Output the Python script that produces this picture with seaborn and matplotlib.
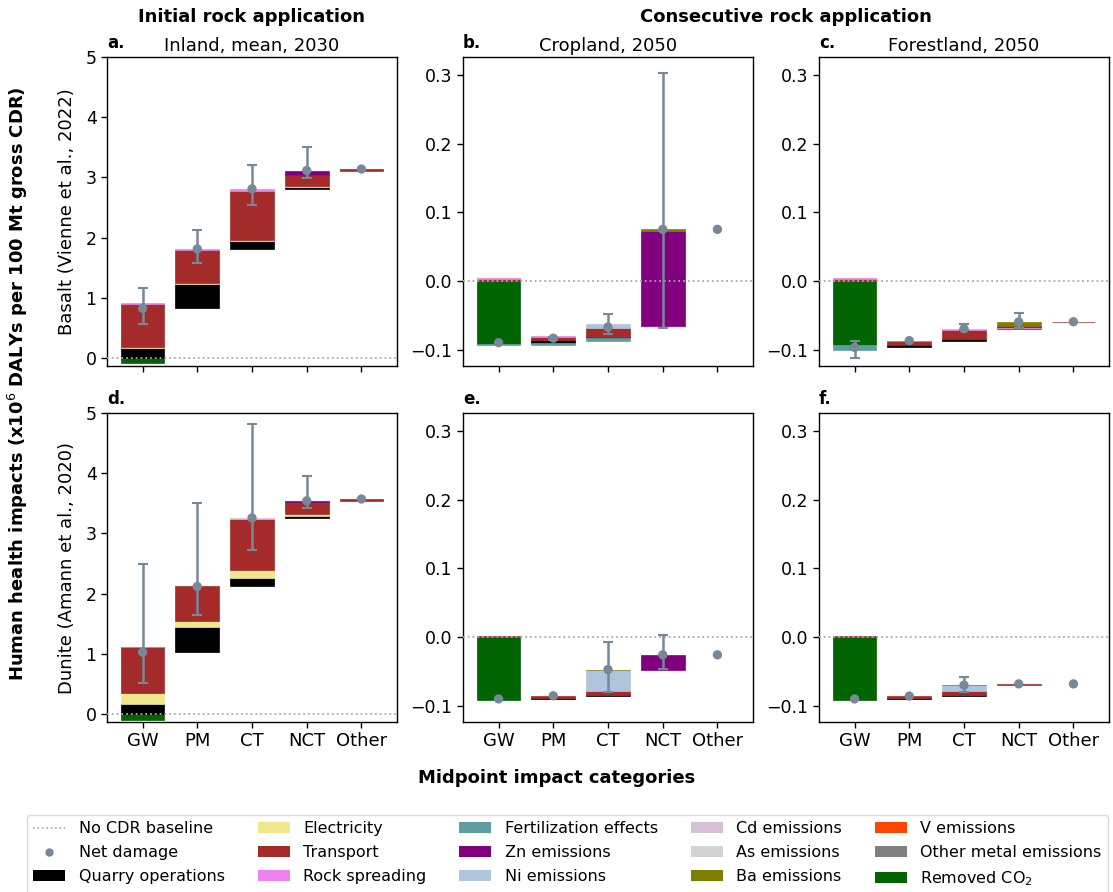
import numpy as np
import pandas as pd
import matplotlib
matplotlib.use("Agg")
import matplotlib.pyplot as plt
from matplotlib.patches import Patch
from matplotlib.lines import Line2D
import seaborn as sns

# ---------------------------------------------------------------------------
# Data: contributions per midpoint impact category (x10^6 DALYs / 100 Mt CDR)
# ---------------------------------------------------------------------------
categories = ["GW", "PM", "CT", "NCT", "Other"]

# Basalt, initial application (inland, mean, 2030)
basalt_initial = {
    "Removed CO2":       [-0.090, 0.0, 0.0, 0.0, 0.0],
    "Quarry operations": [0.160, 0.410, 0.135, 0.030, 0.0],
    "Electricity":       [0.020, 0.012, 0.012, 0.010, 0.0],
    "Transport":         [0.720, 0.545, 0.810, 0.185, 0.025],
    "Rock spreading":    [0.015, 0.020, 0.040, 0.010, 0.0],
    "Zn emissions":      [0.0, 0.0, 0.0, 0.070, 0.0],
}
basalt_initial_lo = [0.56, 1.57, 2.54, 2.99, np.nan]
basalt_initial_hi = [1.16, 2.12, 3.20, 3.50, np.nan]

# Basalt, consecutive application on cropland (2050)
basalt_cropland = {
    "Removed CO2":           [-0.092, 0.0, 0.0, 0.0, 0.0],
    "Quarry operations":     [0.0, 0.0035, 0.0019, 0.0, 0.0],
    "Electricity":           [0.0, 0.0, 0.0, 0.0012, 0.0],
    "Transport":             [0.002, 0.0050, 0.0136, 0.0, 0.0],
    "Rock spreading":        [0.002, 0.0008, 0.0, 0.0, 0.0],
    "Fertilization effects": [-0.002, -0.0028, -0.0040, 0.0, 0.0],
    "Zn emissions":          [0.0, 0.0, 0.0, 0.139, 0.0],
    "Ni emissions":          [0.0, 0.0, 0.0048, 0.0, 0.0],
    "Ba emissions":          [0.0, 0.0, 0.0, 0.0020, 0.0],
}
basalt_cropland_lo = [np.nan, -0.0855, -0.0773, -0.068, np.nan]
basalt_cropland_hi = [np.nan, -0.0815, -0.0480, 0.302, np.nan]

# Basalt, consecutive application on forestland (2050)
basalt_forest = {
    "Removed CO2":           [-0.093, 0.0, 0.0, 0.0, 0.0],
    "Quarry operations":     [0.0, 0.0030, 0.0030, 0.0, 0.0],
    "Transport":             [0.002, 0.0063, 0.0126, 0.0015, 0.0003],
    "Rock spreading":        [0.002, 0.0005, 0.0008, 0.0008, 0.0],
    "Fertilization effects": [-0.0078, 0.0, 0.0, 0.0, 0.0],
    "Zn emissions":          [0.0, 0.0, 0.0, 0.0012, 0.0],
    "Cd emissions":          [0.0, 0.0, 0.0008, 0.0, 0.0],
    "Ba emissions":          [0.0, 0.0, 0.0, 0.0065, 0.0],
}
basalt_forest_lo = [-0.1127, np.nan, -0.0720, -0.0680, np.nan]
basalt_forest_hi = [-0.0875, np.nan, -0.0622, -0.0462, np.nan]

# Dunite, initial application (inland, mean, 2030)
dunite_initial = {
    "Removed CO2":       [-0.095, 0.0, 0.0, 0.0, 0.0],
    "Quarry operations": [0.166, 0.426, 0.143, 0.030, 0.0],
    "Electricity":       [0.190, 0.100, 0.133, 0.040, 0.0],
    "Transport":         [0.750, 0.566, 0.842, 0.200, 0.030],
    "Rock spreading":    [0.015, 0.0, 0.0, 0.0, 0.0],
    "Zn emissions":      [0.0, 0.0, 0.0, 0.015, 0.0],
    "Cd emissions":      [0.0, 0.0, 0.020, 0.0, 0.0],
}
dunite_initial_lo = [0.51, 1.64, 2.72, 3.415, np.nan]
dunite_initial_hi = [2.49, 3.50, 4.82, 3.960, np.nan]

# Dunite, consecutive application on cropland (2050)
dunite_cropland = {
    "Removed CO2":       [-0.0923, 0.0, 0.0, 0.0, 0.0],
    "Quarry operations": [0.0, 0.0020, 0.0010, 0.0, 0.0],
    "Transport":         [0.0019, 0.0026, 0.0063, 0.0, 0.0],
    "Zn emissions":      [0.0, 0.0, 0.0, 0.0214, 0.0],
    "Ni emissions":      [0.0, 0.0, 0.0304, 0.0, 0.0],
    "Ba emissions":      [0.0, 0.0, 0.0005, 0.0, 0.0],
}
dunite_cropland_lo = [np.nan, np.nan, -0.0797, -0.0474, np.nan]
dunite_cropland_hi = [np.nan, np.nan, -0.0078, 0.0023, np.nan]

# Dunite, consecutive application on forestland (2050)
dunite_forest = {
    "Removed CO2":       [-0.0923, 0.0, 0.0, 0.0, 0.0],
    "Quarry operations": [0.0, 0.0020, 0.0010, 0.0, 0.0],
    "Transport":         [0.0019, 0.0022, 0.0063, 0.0018, 0.0],
    "Ni emissions":      [0.0, 0.0, 0.0081, 0.0, 0.0],
    "Ba emissions":      [0.0, 0.0, 0.0005, 0.0, 0.0],
}
dunite_forest_lo = [np.nan, np.nan, -0.0797, np.nan, np.nan]
dunite_forest_hi = [np.nan, np.nan, -0.0585, np.nan, np.nan]

# Contributor colours (legend order) and stacking order
contributor_colors = {
    "Quarry operations": "black",
    "Electricity": "khaki",
    "Transport": "brown",
    "Rock spreading": "violet",
    "Fertilization effects": "cadetblue",
    "Zn emissions": "purple",
    "Ni emissions": "lightsteelblue",
    "Cd emissions": "thistle",
    "As emissions": "lightgray",
    "Ba emissions": "olive",
    "V emissions": "orangered",
    "Other metal emissions": "gray",
    "Removed CO2": "darkgreen",
}
stack_order = ["Removed CO2", "Quarry operations", "Electricity", "Transport",
               "Rock spreading", "Fertilization effects", "Zn emissions",
               "Ni emissions", "Cd emissions", "As emissions", "Ba emissions",
               "V emissions", "Other metal emissions"]

NET_COLOR = "#778899"

# ---------------------------------------------------------------------------
sns.set_theme(style="ticks")
plt.rcParams["font.family"] = ["DejaVu Sans"]
plt.rcParams["axes.edgecolor"] = "black"
plt.rcParams["axes.linewidth"] = 1.0
plt.rcParams["xtick.color"] = "black"
plt.rcParams["ytick.color"] = "black"
plt.rcParams["text.color"] = "black"
plt.rcParams["axes.labelcolor"] = "black"
plt.rcParams["axes.titlecolor"] = "black"

fig = plt.figure(figsize=(11.13, 8.92), dpi=100)

W, H = 1113.0, 892.0
lefts = [107, 463, 819]
tops = [57, 413]
aw, ah = 290, 309


def make_ax(col, row):
    l = lefts[col] / W
    b = 1 - (tops[row] + ah) / H
    return fig.add_axes([l, b, aw / W, ah / H])


def draw_panel(ax, parts, err_lo, err_hi, ylim, yticks, show_xlabels):
    n = len(categories)
    pos = np.arange(n)
    totals = np.zeros(n)
    for vals in parts.values():
        totals += np.asarray(vals, dtype=float)
    net = np.cumsum(totals)
    base = np.concatenate([[0.0], net[:-1]])
    up = base.copy()
    down = base.copy()
    cats = np.array(categories)
    for comp in stack_order:
        if comp not in parts:
            continue
        vals = np.asarray(parts[comp], dtype=float)
        bottoms = np.where(vals > 0, up, down)
        up = up + np.clip(vals, 0, None)
        down = down + np.clip(vals, None, 0)
        keep = vals != 0
        if not keep.any():
            continue
        df = pd.DataFrame({"category": cats[keep], "value": vals[keep]})
        col = contributor_colors[comp]
        sns.barplot(data=df, x="category", y="value", order=categories,
                    bottom=bottoms[keep], color=col, saturation=1, width=0.8,
                    errorbar=None, edgecolor=col, linewidth=0.5, ax=ax,
                    zorder=2)

    ax.axhline(0, color="darkgray", ls=":", lw=1.3, zorder=3)

    lo = np.asarray(err_lo, dtype=float)
    hi = np.asarray(err_hi, dtype=float)
    has = ~np.isnan(lo)
    ax.errorbar(pos[has], net[has], yerr=[net[has] - lo[has], hi[has] - net[has]],
                fmt="none", ecolor=NET_COLOR, elinewidth=1.8, capsize=3.5,
                capthick=1.5, zorder=4)
    sns.scatterplot(x=pos, y=net, color=NET_COLOR, s=45, edgecolor="none",
                    zorder=5, ax=ax, legend=False)

    ax.set_xlim(-0.65, 4.65)
    ax.set_ylim(*ylim)
    ax.set_yticks(yticks)
    ax.set_xticks(pos)
    if show_xlabels:
        ax.set_xticklabels(categories, fontsize=13)
    else:
        ax.set_xticklabels([])
    ax.tick_params(axis="y", labelsize=12.5)
    ax.tick_params(axis="both", length=4, width=1)
    ax.set_xlabel("")
    ax.set_ylabel("")
    for s in ax.spines.values():
        s.set_visible(True)
        s.set_color("black")


big_lim = (-0.133, 5.0)
big_ticks = [0, 1, 2, 3, 4, 5]
small_lim = (-0.124, 0.326)
small_ticks = [-0.1, 0.0, 0.1, 0.2, 0.3]

panels = [
    (0, 0, basalt_initial, basalt_initial_lo, basalt_initial_hi, big_lim, big_ticks, "a.", "Inland, mean, 2030"),
    (1, 0, basalt_cropland, basalt_cropland_lo, basalt_cropland_hi, small_lim, small_ticks, "b.", "Cropland, 2050"),
    (2, 0, basalt_forest, basalt_forest_lo, basalt_forest_hi, small_lim, small_ticks, "c.", "Forestland, 2050"),
    (0, 1, dunite_initial, dunite_initial_lo, dunite_initial_hi, big_lim, big_ticks, "d.", None),
    (1, 1, dunite_cropland, dunite_cropland_lo, dunite_cropland_hi, small_lim, small_ticks, "e.", None),
    (2, 1, dunite_forest, dunite_forest_lo, dunite_forest_hi, small_lim, small_ticks, "f.", None),
]

axes = {}
for col, row, parts, lo, hi, ylim, yt, letter, title in panels:
    ax = make_ax(col, row)
    axes[(col, row)] = ax
    draw_panel(ax, parts, lo, hi, ylim, yt, show_xlabels=(row == 1))
    if title:
        ax.set_title(title, fontsize=13, pad=4)
    ax.text(0.0, 1.015, letter, transform=ax.transAxes, ha="left", va="bottom",
            fontsize=12, fontweight="bold")

axes[(0, 0)].set_ylabel("Basalt (Vienne et al., 2022)", fontsize=13, labelpad=7)
axes[(0, 1)].set_ylabel("Dunite (Amann et al., 2020)", fontsize=13, labelpad=7)

# Group headings and shared labels
fig.text(252 / W, 1 - 17 / H, "Initial rock application", ha="center", va="center",
         fontsize=13, fontweight="bold")
fig.text(786 / W, 1 - 17 / H, "Consecutive rock application", ha="center", va="center",
         fontsize=13, fontweight="bold")
fig.text(18 / W, 1 - 384 / H,
         "Human health impacts (x10$^6$ DALYs per 100 Mt gross CDR)",
         rotation=90, ha="center", va="center", fontsize=13, fontweight="bold")
fig.text(0.5, 1 - 778 / H, "Midpoint impact categories", ha="center", va="center",
         fontsize=13, fontweight="bold")

# Legend
legend_labels = ["No CDR baseline", "Net damage", "Quarry operations", "Electricity",
                 "Transport", "Rock spreading", "Fertilization effects", "Zn emissions",
                 "Ni emissions", "Cd emissions", "As emissions", "Ba emissions",
                 "V emissions", "Other metal emissions", "Removed CO$_2$"]
handles = [Line2D([0], [0], color="darkgray", ls=":", lw=1.2),
           Line2D([0], [0], color=NET_COLOR, marker="o", ls="none", markersize=5)]
for key in ["Quarry operations", "Electricity", "Transport", "Rock spreading",
            "Fertilization effects", "Zn emissions", "Ni emissions", "Cd emissions",
            "As emissions", "Ba emissions", "V emissions", "Other metal emissions",
            "Removed CO2"]:
    handles.append(Patch(facecolor=contributor_colors[key], edgecolor="none"))

leg = fig.legend(handles, legend_labels, ncol=5, loc="upper left",
                 bbox_to_anchor=(27 / W, 1 - 815 / H), fontsize=11.5,
                 frameon=True, fancybox=True, edgecolor="lightgray",
                 borderaxespad=0, labelspacing=0.55, columnspacing=2.05,
                 handletextpad=0.85)

fig.savefig("out.png", dpi=100)
